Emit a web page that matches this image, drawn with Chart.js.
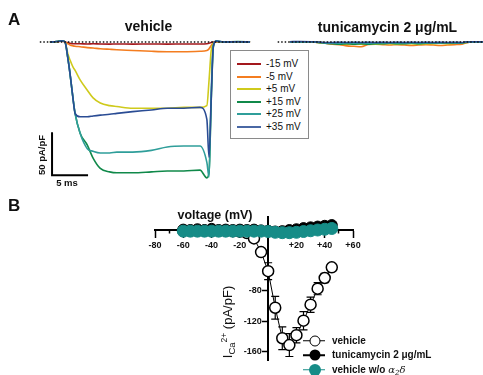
<!DOCTYPE html>
<html><head><meta charset="utf-8">
<script src="https://cdn.jsdelivr.net/npm/chart.js@4.4.0/dist/chart.umd.min.js"></script>
<style>
html,body{margin:0;padding:0;background:#fff;}
#wrap{position:relative;width:483px;height:375px;overflow:hidden;background:#fff;font-family:"Liberation Sans",Arial,sans-serif;color:#111;}
canvas{position:absolute;}
.t{position:absolute;white-space:nowrap;line-height:1;}
.c{transform:translate(-50%,-50%);}
.b{font-weight:bold;}
.lgA{position:absolute;left:230px;top:50px;width:77px;height:87px;border:1px solid #8a8a8a;background:#fff;}
.lgA .ln{position:absolute;left:6px;width:24px;height:2px;}
.lgA .tx{position:absolute;left:35px;font-size:10px;line-height:1;transform:translateY(-50%);white-space:nowrap;}
.lb{position:absolute;}
.lb .ln{position:absolute;left:303px;width:22px;height:1.5px;transform:translateY(-50%);}
.lb .mk{position:absolute;left:315px;width:11px;height:11px;border-radius:50%;box-sizing:border-box;transform:translate(-50%,-50%);}
.lb .tx{position:absolute;left:332px;font-size:10px;font-weight:bold;line-height:1;transform:translateY(-50%);white-space:nowrap;}
</style></head>
<body><div id="wrap">
<canvas id="cVeh" width="260" height="190" style="left:0;top:0"></canvas>
<canvas id="cTun" width="223" height="190" style="left:260px;top:0"></canvas>
<canvas id="cIV" width="483" height="185" style="left:0;top:190px"></canvas>

<div class="t b" style="left:8px;top:11px;font-size:17px;">A</div>
<div class="t b" style="left:8px;top:197px;font-size:17px;">B</div>
<div class="t b c" style="left:148.5px;top:26px;font-size:14px;">vehicle</div>
<div class="t b c" style="left:387.5px;top:27px;font-size:14px;">tunicamycin 2 μg/mL</div>
<div class="t b" style="left:42px;top:154.5px;font-size:9.5px;transform:translate(-50%,-50%) rotate(-90deg);">50 pA/pF</div>
<div class="t b c" style="left:67px;top:183px;font-size:9.5px;">5 ms</div>

<div class="lgA">
  <div class="ln" style="top:12px;background:#a3181d"></div><div class="tx" style="top:13px">-15 mV</div>
  <div class="ln" style="top:25px;background:#f47d20"></div><div class="tx" style="top:26px">-5 mV</div>
  <div class="ln" style="top:37px;background:#cfca1c"></div><div class="tx" style="top:38px">+5 mV</div>
  <div class="ln" style="top:50px;background:#10894a"></div><div class="tx" style="top:51px">+15 mV</div>
  <div class="ln" style="top:62px;background:#2f9e9a"></div><div class="tx" style="top:63px">+25 mV</div>
  <div class="ln" style="top:75px;background:#4a68a4"></div><div class="tx" style="top:76px">+35 mV</div>
</div>

<div class="t b c" style="left:215px;top:215px;font-size:12.5px;">voltage (mV)</div>
<div class="t" style="left:227px;top:322px;font-size:13px;transform:translate(-50%,-50%) rotate(-90deg);">I<span style="font-size:9.5px;position:relative;top:3px;">Ca</span><span style="font-size:8.5px;position:relative;top:-5px;">2+</span> (pA/pF)</div>

<div class="lb">
  <div class="ln" style="top:340.5px;background:#000"></div>
  <div class="mk" style="top:340.5px;background:#fff;border:1.5px solid #000"></div>
  <div class="tx" style="top:340.5px">vehicle</div>
  <div class="ln" style="top:355px;background:#000"></div>
  <div class="mk" style="top:355px;background:#000;"></div>
  <div class="tx" style="top:355px">tunicamycin 2 μg/mL</div>
  <div class="ln" style="top:369.5px;background:#168c87"></div>
  <div class="mk" style="top:369.5px;background:#168c87;width:12px;height:12px;"></div>
  <div class="tx" style="top:369.5px">vehicle w/o <i style="font-family:'DejaVu Serif',serif;font-weight:normal;">α<span style="font-size:7px;position:relative;top:2px;">2</span>δ</i></div>
</div>
</div>
<script>
// ---------- Panel A: current traces (time in ms, current in pA/pF) ----------
const vehTime = [-2.1, -1.2, -0.4, 0, 0.4, 0.7, 1.1, 1.4, 2.1, 3.1, 3.9, 4.9, 6.2, 7.2, 9.4, 12, 14.2, 16.5, 18.75, 19.7, 20.0, 20.3, 20.6, 21.0, 22, 24, 25.7];
const vehM15 = [0,0.2,1.2,0,-1,-1.5,-2,-2,-2,-2.3,-2,-2.3,-2.5,-2.3,-2.5,-2.3,-2.5,-2.3,-2.3,-2,-1.5,-0.5,0,0.3,0,0.2,0];
const vehM5  = [0,0.2,1.2,0,-2,-3.5,-4.5,-5,-5.5,-6.5,-7,-7.8,-8.5,-9,-9.8,-10.8,-11.3,-11.3,-10.8,-10,-8,-4,-1,0.3,0,0.2,0];
const vehP5  = [0,0.3,1.5,0,-14,-21,-29,-33,-44,-56,-65,-71,-74,-75,-77,-77,-77,-76,-76,-74,-45,-10,-2,0.5,0,0.3,0];
const vehP15 = [0,0.5,1.5,0,-19,-37,-65,-83,-106,-120,-135,-147,-151,-152,-152,-151,-150,-150,-149,-158,-152,-70,-6,1,0,0.5,0];
const vehP25 = [0,0.5,1.5,0,-19,-37,-65,-83,-106,-124,-127,-129,-129,-128,-128,-126,-122,-121,-121,-140,-157,-60,-4,1,0,0.3,0];
const vehP35 = [0,0.5,1.5,0,-19,-37,-65,-83,-87,-87,-86,-85,-84,-83,-81,-79,-77,-77,-76,-90,-134,-67,-5,1,0,0.3,0];

const tunTime = [-3.9, -2.5, -1, 0, 1, 2, 3, 4, 5, 6, 7, 8, 9, 10, 11, 12, 13, 14, 15, 16, 17, 18, 19, 20, 20.5, 21.5, 23];
const tunM15 = [0,0,0,-0.3,-0.8,-1,-1,-1.2,-1,-1,-1.2,-1,-1,-1,-1.2,-1,-1,-1,-1.2,-1,-1,-1,-1,-0.8,-0.3,0,0];
const tunM5  = [0,0.3,0,-0.5,-1.5,-2.5,-3,-4.5,-5,-5.5,-3,-2.5,-3,-3.5,-3,-3.5,-4,-3.5,-3,-3.5,-4,-3.5,-3,-2.5,-1,0,0];
const tunP5  = [0,0,0,-0.5,-1,-1.5,-2,-2.5,-2,-2.5,-2,-2.5,-2,-2,-2.5,-2,-2,-2.5,-2,-2,-1.5,-2,-1.5,-1.5,-0.5,0,0];
const tunP15 = [0,0,0.3,-0.5,-1.5,-2,-2.5,-2,-2.5,-2,-2.5,-2,-2,-1.5,-2,-2,-1.5,-2,-1.5,-1.5,-1.5,-1,-1.5,-1,-0.5,0,0];
const tunP25 = [0,0,0.3,-0.3,-1,-1.5,-1.5,-1.2,-1.5,-1.2,-1.5,-1.2,-1,-1.2,-1,-1.2,-1,-1,-1.2,-1,-1,-0.8,-1,-0.8,-0.3,0,0];
const tunP35 = [0.3,0.5,0.3,0,-0.5,-0.5,-0.3,-0.5,-0.3,-0.5,-0.3,-0.5,-0.3,-0.5,-0.3,-0.5,-0.3,-0.5,-0.3,-0.5,-0.3,-0.5,-0.3,-0.5,0,0.3,0.3];

const traceLabels = ['-15 mV', '-5 mV', '+5 mV', '+15 mV', '+25 mV', '+35 mV'];
const traceColors = ['#a3181d', '#f47d20', '#cfca1c', '#10894a', '#2f9e9a', '#2a4c94'];

const vehBaselineTime = [-3.5, 25.7];
const tunBaselineTime = [-5.6, 23];
const baselineCurrent = [0, 0];
const scaleBarTime = [-1.8, -1.8, 3.2];      // 5 ms
const scaleBarCurrent = [-105, -155, -155];  // 50 pA/pF

// ---------- Panel B: I-V relationship ----------
const voltages = [-60,-55,-50,-45,-40,-35,-30,-25,-20,-15,-10,-5,0,5,10,15,20,25,30,35,40,45];
const vehicleCurrent = [-1,-1,-1,-1,-1,-1,-1,-1.5,-2,-4,-11,-29,-54,-102,-142,-151,-138,-119,-98,-77,-63,-49];
const vehicleSEM = [0,0,0,0,0,0,0,0,1,2,3,5,11,15,15,15,10,12,10,8,6,4];
const tunicamycinCurrent = [0.5,0,1,0,1.5,0,0.5,0,0.5,0,0.5,-0.5,-1,-2,-1.5,0,1,2.5,3.5,4.5,5.5,6.5];
const noA2dCurrent = [-1.5,-1.5,-1.5,-1.5,-1.5,-1.5,-1.5,-1.5,-1.5,-1.5,-1.5,-1.5,-2,-3,-3.5,-3.5,-3,-2,-1,0,1,2];
const xMajorTicks = [-80,-60,-40,-20,0,20,40,60];
const xMinorTicks = [-70,-50,-30,-10,10,30,50];
const yTickValues = [-160,-120,-80];

const FONT = '"Liberation Sans", Arial, sans-serif';
const zip = (xs, ys) => xs.map((x, i) => ({x, y: ys[i]}));

function traceSet(label, time, vals, color, order) {
  return { label, data: zip(time, vals), showLine: true, borderColor: color, backgroundColor: color,
           borderWidth: 1.6, pointRadius: 0, cubicInterpolationMode: 'monotone', order };
}
function traceChart(id, time, series, baseTime, withBar, xmin, xmax) {
  const ds = series.map((s, i) => traceSet(traceLabels[i], time, s, traceColors[i], 6 - i));
  ds.push({ label: 'baseline', data: zip(baseTime, baselineCurrent), showLine: true, borderColor: '#111',
            borderWidth: 1.5, borderDash: [1.5, 2], pointRadius: 0, order: 0 });
  if (withBar) ds.push({ label: 'scale', data: zip(scaleBarTime, scaleBarCurrent), showLine: true,
            borderColor: '#000', borderWidth: 2, pointRadius: 0, order: 0, borderJoinStyle: 'miter' });
  return new Chart(document.getElementById(id), {
    type: 'scatter',
    data: { datasets: ds },
    options: {
      responsive: false, animation: false, events: [],
      layout: { padding: 0 },
      plugins: { legend: { display: false }, tooltip: { enabled: false } },
      scales: {
        x: { type: 'linear', display: false, min: xmin, max: xmax },
        y: { type: 'linear', display: false, min: -172.09, max: 48.84 }
      }
    }
  });
}
traceChart('cVeh', vehTime, [vehM15, vehM5, vehP5, vehP15, vehP25, vehP35], vehBaselineTime, true, -9.028, 27.08);
traceChart('cTun', tunTime, [tunM15, tunM5, tunP5, tunP15, tunP25, tunP35], tunBaselineTime, false, -8.056, 22.92);

const errorBars = {
  id: 'errorBars',
  beforeDatasetsDraw(chart) {
    const {ctx, scales: {x, y}} = chart;
    ctx.save();
    ctx.strokeStyle = '#000';
    ctx.lineWidth = 1.2;
    voltages.forEach((v, i) => {
      const e = vehicleSEM[i];
      if (!e) return;
      const px = x.getPixelForValue(v);
      const t = y.getPixelForValue(vehicleCurrent[i] + e);
      const b = y.getPixelForValue(vehicleCurrent[i] - e);
      ctx.beginPath();
      ctx.moveTo(px, t); ctx.lineTo(px, b);
      ctx.moveTo(px - 4, t); ctx.lineTo(px + 4, t);
      ctx.moveTo(px - 4, b); ctx.lineTo(px + 4, b);
      ctx.stroke();
    });
    ctx.restore();
  }
};

const tickFont = { family: FONT, size: 9, weight: 'bold' };
new Chart(document.getElementById('cIV'), {
  type: 'scatter',
  data: { datasets: [
    { label: 'vehicle', data: zip(voltages, vehicleCurrent), showLine: true, borderColor: '#000', borderWidth: 1,
      pointRadius: 5.5, pointBackgroundColor: '#fff', pointBorderColor: '#000', pointBorderWidth: 1.5, order: 2, clip: false },
    { label: 'tunicamycin 2 μg/mL', data: zip(voltages, tunicamycinCurrent), showLine: true, borderColor: '#000', borderWidth: 1,
      pointRadius: 5.5, pointBackgroundColor: '#000', pointBorderColor: '#000', pointBorderWidth: 1, order: 1, clip: false },
    { label: 'vehicle w/o α2δ', data: zip(voltages, noA2dCurrent), showLine: true, borderColor: '#168c87', borderWidth: 1,
      pointRadius: 6, pointBackgroundColor: '#168c87', pointBorderColor: '#168c87', pointBorderWidth: 1, order: 0, clip: false }
  ]},
  options: {
    responsive: false, animation: false, events: [],
    layout: { padding: { left: 155, right: 130, top: 27, bottom: 15 } },
    plugins: { legend: { display: false }, tooltip: { enabled: false } },
    scales: {
      x: { type: 'linear', min: -80, max: 60, position: { y: 0 },
           border: { display: true, color: '#000', width: 2 },
           grid: { drawOnChartArea: false, drawTicks: true, tickLength: 7, tickColor: '#000', tickWidth: 1.5 },
           ticks: { autoSkip: false, maxRotation: 0, padding: 3, color: '#111', font: tickFont,
                    callback: v => v === 0 ? '' : (v > 0 ? '+' + v : '' + v) },
           afterBuildTicks: s => { s.ticks = xMajorTicks.map(v => ({value: v})); } },
      x2: { type: 'linear', axis: 'x', min: -80, max: 60, position: { y: 0 },
            border: { display: false },
            grid: { drawOnChartArea: false, drawTicks: true, tickLength: 3.5, tickColor: '#000', tickWidth: 1.5 },
            ticks: { display: false },
            afterBuildTicks: s => { s.ticks = xMinorTicks.map(v => ({value: v})); } },
      y: { type: 'linear', min: -170.6, max: 17.06, position: { x: 0 },
           border: { display: true, color: '#000', width: 2 },
           grid: { drawOnChartArea: false, drawTicks: true, tickLength: 5, tickColor: '#000', tickWidth: 1.5 },
           ticks: { padding: 2, color: '#111', font: tickFont, callback: v => v + '\u2002\u2009' },
           afterBuildTicks: s => { s.ticks = yTickValues.map(v => ({value: v})); } }
    }
  },
  plugins: [errorBars]
});
</script>
</body></html>
